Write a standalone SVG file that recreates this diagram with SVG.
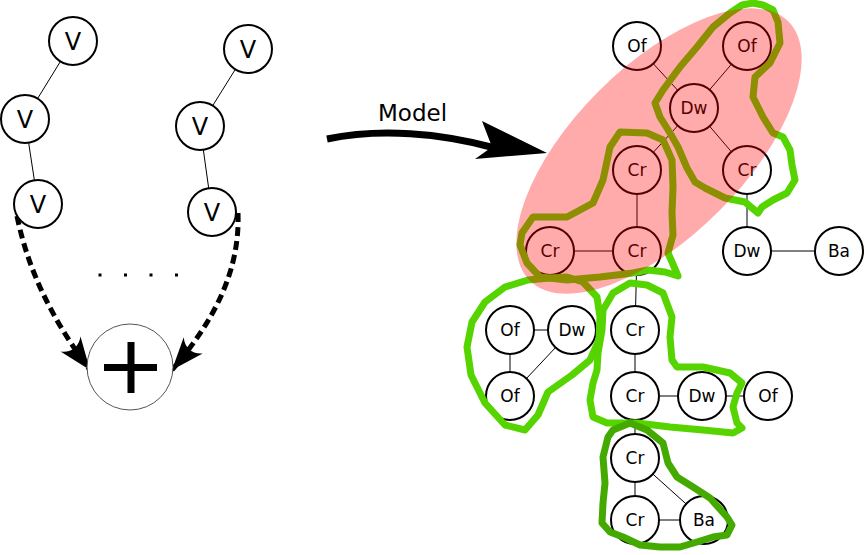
<svg xmlns="http://www.w3.org/2000/svg" width="865" height="555" viewBox="0 0 865 555">
<style>
.n circle{fill:#fff;stroke:#000;stroke-width:2}
.n text{font-family:"DejaVu Sans",sans-serif;font-size:17px;text-anchor:middle;fill:#000}
.v text{font-size:24px}
.e line{stroke:#000;stroke-width:1}
.g{fill:none;stroke:#55d400;stroke-width:7;stroke-linejoin:round;stroke-linecap:round}
.gd{stroke:#44aa00}
.dash{fill:none;stroke:#000;stroke-width:5;stroke-dasharray:9,5}
.dot{fill:#000}
</style>
<defs>
<marker id="ah" markerUnits="userSpaceOnUse" markerWidth="40" markerHeight="40" viewBox="-30 -15 32 30" refX="0" refY="0" orient="auto" overflow="visible">
<path d="M0,0 L-26,-10 C-20,-4 -20,4 -26,10 Z" fill="#000"/>
</marker>
</defs>
<rect width="865" height="555" fill="#fff"/>

<g id="connectors" class="e">
<line x1="73" y1="41" x2="25" y2="119"/>
<line x1="25" y1="119" x2="38" y2="204"/>
<line x1="248" y1="49" x2="200" y2="126"/>
<line x1="200" y1="126" x2="212" y2="212"/>
<line x1="637" y1="46" x2="694" y2="108"/>
<line x1="747" y1="46" x2="694" y2="108"/>
<line x1="694" y1="108" x2="637" y2="170"/>
<line x1="694" y1="108" x2="747" y2="170"/>
<line x1="637" y1="170" x2="637" y2="251"/>
<line x1="550" y1="251" x2="637" y2="251"/>
<line x1="747" y1="170" x2="747" y2="251"/>
<line x1="747" y1="251" x2="839" y2="251"/>
<line x1="637" y1="251" x2="635" y2="330"/>
<line x1="510" y1="330" x2="572" y2="330"/>
<line x1="510" y1="330" x2="510" y2="396"/>
<line x1="572" y1="330" x2="510" y2="396"/>
<line x1="635" y1="330" x2="635" y2="396"/>
<line x1="635" y1="396" x2="702" y2="396"/>
<line x1="702" y1="396" x2="768" y2="396"/>
<line x1="635" y1="396" x2="635" y2="458"/>
<line x1="635" y1="458" x2="635" y2="520"/>
<line x1="635" y1="458" x2="704" y2="520"/>
<line x1="635" y1="520" x2="704" y2="520"/>
<path class="dash" d="M17,216 C30,280 60,330 90,370" marker-end="url(#ah)"/>
<path class="dash" d="M238,213 C240,270 215,320 172,370" marker-end="url(#ah)"/>
<path d="M327,139 C380,128 440,133 495,148" fill="none" stroke="#000" stroke-width="7"/>
<path d="M547,153 L482,121 L492,147 L475,159 Z" fill="#000"/>
</g>
<g id="ellipsis">
<rect class="dot" x="98.5" y="273.5" width="3" height="3"/>
<rect class="dot" x="124" y="273.5" width="3" height="3"/>
<rect class="dot" x="149.5" y="273.5" width="3" height="3"/>
<rect class="dot" x="175" y="273.5" width="3" height="3"/>
</g>
<text x="378" y="121" font-family="DejaVu Sans, sans-serif" font-size="23">Model</text>

<g id="v1" class="n v"><circle cx="73" cy="41" r="24"/><text x="73" y="50">V</text></g>
<g id="v2" class="n v"><circle cx="25" cy="119" r="24"/><text x="25" y="128">V</text></g>
<g id="v3" class="n v"><circle cx="38" cy="204" r="24"/><text x="38" y="213">V</text></g>
<g id="v4" class="n v"><circle cx="248" cy="49" r="24"/><text x="248" y="58">V</text></g>
<g id="v5" class="n v"><circle cx="200" cy="126" r="24"/><text x="200" y="135">V</text></g>
<g id="v6" class="n v"><circle cx="212" cy="212" r="24"/><text x="212" y="221">V</text></g>
<g id="plus"><circle cx="130" cy="367" r="43" fill="#fff" stroke="#555" stroke-width="1"/>
<rect x="104" y="364" width="53" height="7" fill="#000"/><rect x="127.5" y="342" width="7" height="51" fill="#000"/></g>

<g id="of1" class="n"><circle cx="637" cy="46" r="24"/><text x="637" y="52">Of</text></g>
<g id="of2" class="n"><circle cx="747" cy="46" r="24"/><text x="747" y="52">Of</text></g>
<g id="dw1" class="n"><circle cx="694" cy="108" r="24"/><text x="694" y="114">Dw</text></g>
<g id="cr1" class="n"><circle cx="637" cy="170" r="24"/><text x="637" y="176">Cr</text></g>
<g id="cr2" class="n"><circle cx="747" cy="170" r="24"/><text x="747" y="176">Cr</text></g>
<g id="cr3" class="n"><circle cx="550" cy="251" r="24"/><text x="550" y="257">Cr</text></g>
<g id="cr4" class="n"><circle cx="637" cy="251" r="24"/><text x="637" y="257">Cr</text></g>
<g id="dw2" class="n"><circle cx="747" cy="251" r="24"/><text x="747" y="257">Dw</text></g>
<g id="ba1" class="n"><circle cx="839" cy="251" r="24"/><text x="839" y="257">Ba</text></g>
<g id="of3" class="n"><circle cx="510" cy="330" r="24"/><text x="510" y="336">Of</text></g>
<g id="dw3" class="n"><circle cx="572" cy="330" r="24"/><text x="572" y="336">Dw</text></g>
<g id="of4" class="n"><circle cx="510" cy="396" r="24"/><text x="510" y="402">Of</text></g>
<g id="cr5" class="n"><circle cx="635" cy="330" r="24"/><text x="635" y="336">Cr</text></g>
<g id="cr6" class="n"><circle cx="635" cy="396" r="24"/><text x="635" y="402">Cr</text></g>
<g id="dw4" class="n"><circle cx="702" cy="396" r="24"/><text x="702" y="402">Dw</text></g>
<g id="of5" class="n"><circle cx="768" cy="396" r="24"/><text x="768" y="402">Of</text></g>
<g id="cr7" class="n"><circle cx="635" cy="458" r="24"/><text x="635" y="464">Cr</text></g>
<g id="cr8" class="n"><circle cx="635" cy="520" r="24"/><text x="635" y="526">Cr</text></g>
<g id="ba2" class="n"><circle cx="704" cy="520" r="24"/><text x="704" y="526">Ba</text></g>

<g id="groups">
<path class="g" d="M742,5 L753,3 L763,5 L773,10 L778,22 L780,43 L770,63 L755,77 L753,97 L763,117 L773,133 L783,137 L790,150 L792,165 L795,180 L787,193 L773,200 L762,207 L758,213 L752,208 L745,202 L725,198 L705,188 L695,182 L687,168 L678,147 L670,133 L660,117 L655,103 L663,90 L680,67 L697,47 L713,27 L730,13 Z"/>
<path class="g" d="M620,132 L647,133 L663,140 L672,160 L673,187 L672,213 L673,235 L668,253 L672,262 L678,276 L665,272 L648,270 L633,273 L600,277 L567,280 L540,277 L527,263 L520,245 L522,233 L533,217 L567,217 L593,203 L603,180 L610,147 Z"/>
<path class="g" d="M550,278 L528,280 L505,287 L485,302 L472,322 L467,347 L471,375 L485,403 L505,425 L525,430 L538,415 L548,392 L572,375 L590,360 L599,340 L600,317 L597,297 L583,282 L567,277 Z"/>
<path class="g" d="M613,293 L630,283 L647,285 L663,293 L672,317 L670,337 L672,360 L677,367 L703,367 L730,373 L742,383 L737,393 L733,407 L737,423 L742,428 L733,433 L703,430 L670,427 L637,423 L607,423 L593,417 L590,400 L593,383 L597,370 L598,353 L602,330 L603,310 Z"/>
<path class="g gd" d="M613,430 L630,423 L647,430 L663,443 L668,463 L677,477 L693,487 L710,498 L727,517 L732,525 L727,535 L713,537 L697,542 L680,547 L660,547 L640,545 L623,537 L610,532 L602,523 L603,503 L605,483 L603,457 L608,437 Z"/>
</g>

<ellipse id="cluster" cx="659" cy="151" rx="183" ry="85" transform="rotate(-45 659 151)" fill="#ff0000" fill-opacity="0.33"/>
</svg>
